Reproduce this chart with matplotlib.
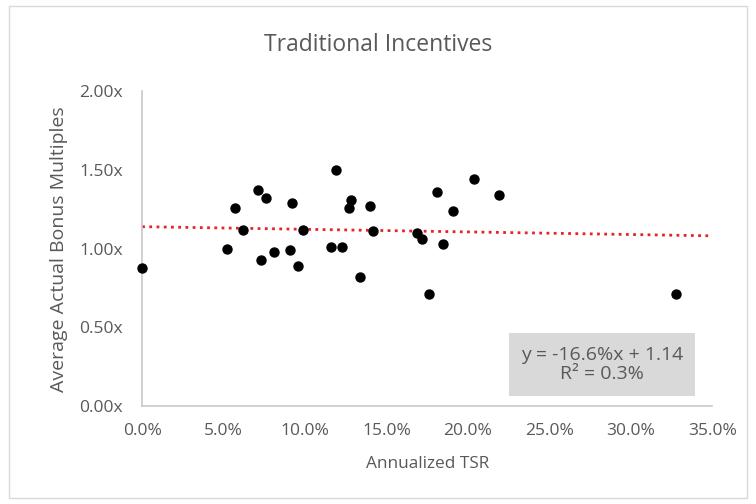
import matplotlib.pyplot as plt
from matplotlib.ticker import FuncFormatter
from matplotlib.patches import Rectangle

# annualized TSR (%) and average actual bonus multiple
tsr = [0.0, 5.2, 5.7, 6.2, 7.1, 7.6, 7.3, 8.1, 9.2, 9.1, 9.6, 9.9,
       11.9, 11.6, 12.3, 12.8, 12.7, 13.4, 14.0, 14.2, 16.9, 17.2,
       17.6, 18.1, 18.5, 19.1, 20.4, 21.9, 32.8]
bonus = [0.88, 1.00, 1.26, 1.12, 1.37, 1.32, 0.93, 0.98, 1.29, 0.99, 0.89, 1.12,
         1.50, 1.01, 1.01, 1.31, 1.26, 0.82, 1.27, 1.11, 1.10, 1.06,
         0.71, 1.36, 1.03, 1.24, 1.44, 1.34, 0.71]

slope = -0.166
intercept = 1.14
trend_x = [0.0, 35.0]
x_ticks = [0, 5, 10, 15, 20, 25, 30, 35]
y_ticks = [0.0, 0.5, 1.0, 1.5, 2.0]

plt.rcParams["font.family"] = ["Open Sans", "DejaVu Sans"]
grey = "#595959"

fig = plt.figure(figsize=(7.56, 5.04), dpi=100)
fig.patches.append(Rectangle((0.012, 0.012), 0.976, 0.976, transform=fig.transFigure,
                             fill=False, edgecolor="#d9d9d9", linewidth=1.0))
ax = fig.add_axes([0.188, 0.194, 0.754, 0.625])

ax.scatter(tsr, bonus, s=42, color="black", zorder=3, clip_on=False)
ax.plot(trend_x, [intercept + slope * v / 100 for v in trend_x],
        color="#e8222a", linestyle=(0, (1, 1.6)), linewidth=2.0, zorder=2)

ax.set_xlim(0, 35)
ax.set_ylim(0, 2)
ax.set_xticks(x_ticks)
ax.set_yticks(y_ticks)
ax.xaxis.set_major_formatter(FuncFormatter(lambda v, p: f"{v:.1f}%"))
ax.yaxis.set_major_formatter(FuncFormatter(lambda v, p: f"{v:.2f}x"))
ax.tick_params(length=0, labelsize=12.5, colors=grey)
ax.tick_params(axis="x", pad=12)
ax.tick_params(axis="y", pad=14)

for s in ["top", "right"]:
    ax.spines[s].set_visible(False)
for s in ["left", "bottom"]:
    ax.spines[s].set_color("#c8c8c8")
    ax.spines[s].set_linewidth(1.2)

ax.set_xlabel("Annualized TSR", fontsize=12.4, color=grey, labelpad=12)
ax.set_ylabel("Average Actual Bonus Multiples", fontsize=14, color=grey, labelpad=8)
fig.text(0.5, 0.91, "Traditional Incentives", ha="center", va="center",
         fontsize=16.5, color=grey)

fig.patches.append(Rectangle((509 / 756, 1 - 396 / 504), 186 / 756, 63 / 504,
                             transform=fig.transFigure, facecolor="#d9d9d9",
                             edgecolor="none", zorder=5))
fig.text(602 / 756, 1 - 364.5 / 504, "y = -16.6%x + 1.14\nR² = 0.3%",
         ha="center", va="center", fontsize=14, color=grey, linespacing=1.1, zorder=6)

fig.savefig("out.png", dpi=100)
